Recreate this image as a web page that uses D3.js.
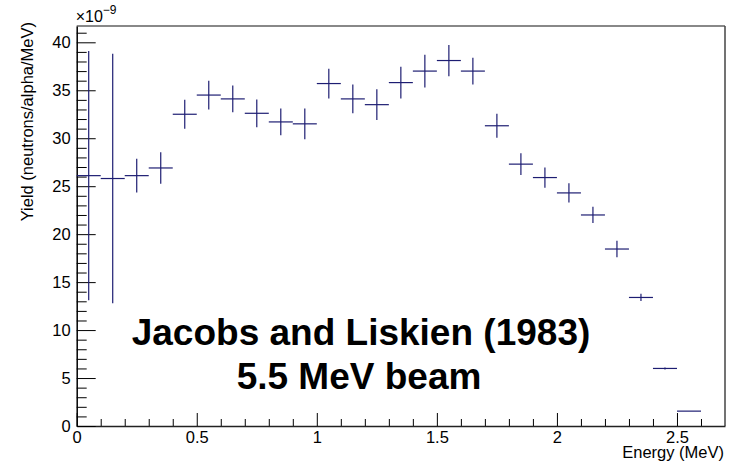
<!DOCTYPE html>
<html>
<head>
<meta charset="utf-8">
<script src="https://cdn.jsdelivr.net/npm/d3@7"></script>
<style>
  body { margin: 0; background: #fff; }
  svg { display: block; font-family: "Liberation Sans", Arial, sans-serif; }
  .axis text { font-size: 16.5px; fill: #000; }
</style>
</head>
<body>
<svg width="734" height="464"></svg>
<script>
// bin edges (MeV), width 0.1
var binLow = [0.0,0.1,0.2,0.3,0.4,0.5,0.6,0.7,0.8,0.9,1.0,1.1,1.2,1.3,1.4,1.5,1.6,1.7,1.8,1.9,2.0,2.1,2.2,2.3,2.4,2.5];
// yield in units of 1e-9 neutrons/alpha/MeV
var yieldVals = [26.1,25.8,26.1,26.9,32.5,34.5,34.1,32.6,31.7,31.5,35.7,34.1,33.5,35.8,37.0,38.1,37.0,31.3,27.3,25.9,24.3,22.0,18.45,13.4,6.0,1.55];
var yieldErr = [13.0,13.0,1.75,1.65,1.5,1.5,1.4,1.45,1.4,1.6,1.55,1.5,1.6,1.65,1.7,1.63,1.4,1.25,1.13,1.06,1.0,0.85,0.85,0.38,0.1,0.0];
var xMajor = [0,0.5,1,1.5,2,2.5];
var yMajor = [0,5,10,15,20,25,30,35,40];

var binW = 0.1;
var data = binLow.map(function(lo, i){
    return {lo: lo, hi: lo + binW, v: yieldVals[i], e: yieldErr[i]};
});

var svg = d3.select('svg');
var pL = 76.7, pR = 725, pT = 26, pB = 426;

var xScale = d3.scaleLinear().domain([0, 2.7]).range([pL, pR]);
var yScale = d3.scaleLinear().domain([0, 41.7]).range([pB, pT]);

// frame (top and right)
svg.append('line').attr('x1', pL).attr('x2', pR).attr('y1', pT).attr('y2', pT)
    .attr('stroke', '#888').attr('stroke-width', 2);
svg.append('line').attr('x1', pR).attr('x2', pR).attr('y1', pT).attr('y2', pB)
    .attr('stroke', '#444').attr('stroke-width', 1.5);

// minor ticks
var xMinor = d3.range(0, 27).map(function(d){ return d / 10; }).filter(function(d){ return Math.round(d*10) % 5 !== 0; });
var yMinor = d3.range(0, 42).filter(function(d){ return d % 5 !== 0; });

svg.append('g').attr('class', 'axis')
    .attr('transform', 'translate(0,' + pB + ')')
    .call(d3.axisBottom(xScale).tickValues(xMinor).tickSizeInner(-7).tickSizeOuter(0).tickFormat(''))
    .call(function(g){ g.select('.domain').remove(); });
svg.append('g').attr('class', 'axis')
    .attr('transform', 'translate(' + pL + ',0)')
    .call(d3.axisLeft(yScale).tickValues(yMinor).tickSizeInner(-10).tickSizeOuter(0).tickFormat(''))
    .call(function(g){ g.select('.domain').remove(); });

// major ticks + labels
var xAxis = svg.append('g').attr('class', 'axis')
    .attr('transform', 'translate(0,' + pB + ')')
    .call(d3.axisBottom(xScale).tickValues(xMajor).tickSizeInner(-13).tickSizeOuter(0).tickPadding(5)
        .tickFormat(function(d){ return d3.format('')(d); }));
xAxis.select('.domain').attr('stroke', '#222').attr('stroke-width', 1.5);

var yAxis = svg.append('g').attr('class', 'axis')
    .attr('transform', 'translate(' + pL + ',0)')
    .call(d3.axisLeft(yScale).tickValues(yMajor).tickSizeInner(-19).tickSizeOuter(0).tickPadding(6));
yAxis.select('.domain').attr('stroke', '#000').attr('stroke-width', 1.5);

// exponent label
var expo = svg.append('text').attr('x', pL - 1).attr('y', 22).attr('font-size', 16);
expo.append('tspan').text('\u00d710');
expo.append('tspan').attr('dy', -8).attr('font-size', 12).text('\u22129');

// axis titles
svg.append('text')
    .attr('transform', 'translate(33,22) rotate(-90)')
    .attr('text-anchor', 'end')
    .attr('font-size', 16.5)
    .text('Yield (neutrons/alpha/MeV)');
svg.append('text')
    .attr('x', 724).attr('y', 458)
    .attr('text-anchor', 'end')
    .attr('font-size', 16.5)
    .text('Energy (MeV)');

// histogram error crosses
var col = '#1d1d72';
var pts = svg.append('g');
pts.selectAll('line.h').data(data).enter().append('line').attr('class', 'h')
    .attr('x1', function(d){ return xScale(d.lo); })
    .attr('x2', function(d){ return xScale(d.hi); })
    .attr('y1', function(d){ return yScale(d.v); })
    .attr('y2', function(d){ return yScale(d.v); })
    .attr('stroke', col).attr('stroke-width', 1.2);
pts.selectAll('line.v').data(data.filter(function(d){ return d.e > 0; })).enter().append('line').attr('class', 'v')
    .attr('x1', function(d){ return xScale((d.lo + d.hi) / 2); })
    .attr('x2', function(d){ return xScale((d.lo + d.hi) / 2); })
    .attr('y1', function(d){ return yScale(d.v - d.e); })
    .attr('y2', function(d){ return yScale(d.v + d.e); })
    .attr('stroke', col).attr('stroke-width', 1.2);

// annotation
svg.append('text').attr('x', 361).attr('y', 345)
    .attr('text-anchor', 'middle').attr('font-weight', 'bold').attr('font-size', 37)
    .text('Jacobs and Liskien (1983)');
svg.append('text').attr('x', 359).attr('y', 389)
    .attr('text-anchor', 'middle').attr('font-weight', 'bold').attr('font-size', 37)
    .text('5.5 MeV beam');
</script>
</body>
</html>
